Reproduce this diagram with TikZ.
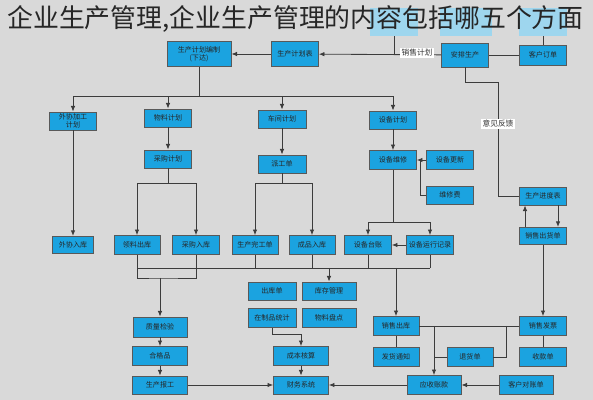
\documentclass[tikz,border=0pt]{standalone}
\usepackage{fontspec}
\setmainfont{Noto Sans CJK SC}
\usetikzlibrary{positioning, arrows.meta, calc}
\definecolor{bgcolor}{RGB}{217,217,217}
\definecolor{boxcolor}{RGB}{27,163,224}
\definecolor{hlcolor}{RGB}{158,214,238}
\definecolor{linecolor}{RGB}{60,60,60}

\begin{document}
\begin{tikzpicture}[x=0.025cm, y=-0.025cm,
    blk/.style={draw=black!65, fill=boxcolor, line width=0.6pt, inner sep=0pt,
        minimum width=1.17cm, minimum height=0.47cm, text=black!85,
        font=\fontsize{5}{6}\selectfont, align=center},
    hl/.style={fill=hlcolor, inner sep=0pt, minimum width=1.18cm, minimum height=0.7cm},
    lnk/.style={draw=linecolor, line width=0.6pt},
    arr/.style={lnk, -{Latex[length=4pt, width=3.2pt]}},
    lbl/.style={fill=white, inner sep=1pt, text=black!80, font=\fontsize{5.5}{6}\selectfont}]
    % Fond
    \fill[bgcolor] (0,0) rectangle (593,400);
    \useasboundingbox (0,0) rectangle (593,400);

    % Cases cachées sous le titre
    \node[hl] (t1) at (394,22) {};
    \node[hl, minimum width=1.28cm] (t2) at (466,22) {};
    \node[hl] (t3) at (543,22) {};

    % Première rangée
    \node[blk, minimum width=1.6cm, minimum height=0.63cm] (plan) at (199,54) {生产计划编制\\(下达)};
    \node[blk, minimum height=0.63cm] (plantab) at (295,54) {生产计划表};
    \node[blk, minimum height=0.6cm] (arrange) at (465,55) {安排生产};
    \node[blk, minimum height=0.5cm] (order) at (543,55) {客户订单};
    \draw[arr] (arrange) -- (plantab);
    \draw[lnk] (t1) -- (t1 |- plantab);
    \draw[lnk] (order) -- (arrange);
    \draw[lnk] (t3) -- (order);
    \draw[arr] (plantab) -- (plan);
    \node[lbl] (sales) at (417,53) {销售计划};

    % Deuxième rangée
    \node[blk, minimum height=0.45cm] (outplan) at (73,121) {外协加工\\计划};
    \node[blk, minimum height=0.45cm] (matplan) at (168,118) {物料计划};
    \node[blk, minimum height=0.45cm, minimum width=1.2cm] (shopplan) at (282,119) {车间计划};
    \node[blk, minimum height=0.45cm] (eqplan) at (393,120) {设备计划};
    \coordinate (bus1) at (199,96);
    \draw[lnk] (plan) -- (bus1);
    \foreach \n in {outplan, matplan, shopplan, eqplan}
        \draw[arr] (bus1) -| (\n);

    % Troisième rangée
    \node[blk, minimum height=0.45cm] (buyplan) at (168,159) {采购计划};
    \node[blk, minimum height=0.45cm, minimum width=1.2cm] (dispatch) at (282,164) {派工单};
    \node[blk] (repair) at (393,160) {设备维修};
    \node[blk] (renew) at (450,160) {设备更新};
    \node[blk, minimum height=0.45cm] (spare) at (450,195) {维修费};
    \node[blk, minimum height=0.45cm] (progress) at (543,196) {生产进度表};
    \draw[arr] (matplan) -- (buyplan);
    \draw[arr] (shopplan) -- (dispatch);
    \draw[arr] (eqplan) -- (repair);
    \draw[arr] (renew) -- (repair);
    \coordinate (jr) at (420,160);
    \draw[lnk] (spare) -| (jr);
    \coordinate (fb) at (498,82);
    \draw[lnk] (arrange) |- (fb) |- (progress);
    \node[lbl] (advice) at (498,124) {意见反馈};

    % Quatrième rangée
    \node[blk, minimum width=1.03cm, minimum height=0.43cm] (outstock) at (73,245) {外协入库};
    \node[blk, minimum width=1.15cm] (matout) at (137,245) {领料出库};
    \node[blk] (buystock) at (196,245) {采购入库};
    \node[blk, minimum width=1.15cm] (finish) at (255,245) {生产完工单};
    \node[blk, minimum width=1.15cm] (prodstock) at (312,245) {成品入库};
    \node[blk] (eqbook) at (368,245) {设备台账};
    \node[blk] (eqrun) at (430,245) {设备运行记录};
    \node[blk, minimum height=0.43cm] (shipment) at (543,236) {销售出货单};
    \draw[arr] (outplan) -- (outstock);
    \coordinate (bus2) at (168,183);
    \draw[lnk] (buyplan) -- (bus2);
    \foreach \n in {matout, buystock}
        \draw[arr] (bus2) -| (\n);
    \coordinate (bus3) at (282,183);
    \draw[lnk] (dispatch) -- (bus3);
    \foreach \n in {finish, prodstock}
        \draw[arr] (bus3) -| (\n);
    \coordinate (bus4) at (393,222);
    \draw[lnk] (repair) -- (bus4);
    \foreach \n in {eqbook, eqrun}
        \draw[arr] (bus4) -| (\n);
    \draw[arr] (eqrun) -- (eqbook);
    \draw[arr] ($(shipment.north)+(-18,0)$) -- ($(progress.south)+(-18,0)$);
    \draw[arr] ($(progress.south)+(15,0)$) -- ($(shipment.north)+(15,0)$);

    % Bloc central
    \node[blk, minimum width=1.2cm, minimum height=0.45cm] (outlist) at (272,291) {出库单};
    \node[blk, minimum width=1.35cm, minimum height=0.45cm] (stock) at (329,291) {库存管理};
    \node[blk, minimum width=1.2cm] (wip) at (272,318) {在制品统计};
    \node[blk, minimum width=1.35cm] (count) at (329,318) {物料盘点};
    \node[blk, minimum width=1.37cm] (cost) at (301,356) {成本核算};
    \node[blk, minimum width=1.37cm, minimum height=0.45cm] (finance) at (301,385) {财务系统};
    \coordinate (bus6a) at (137,268);
    \coordinate (bus6b) at (430,268);
    \draw[lnk] (bus6a) -- (bus6b);
    \foreach \n in {finish, prodstock, eqbook, eqrun}
        \draw[lnk] (\n) -- (\n |- bus6a);
    \coordinate (ubot) at (160,278);
    \draw[lnk] (matout) |- (ubot) -| (buystock);
    \coordinate (wj) at (301,334);
    \draw[arr] (wip) |- (wj) -- (cost);
    \draw[arr] (cost) -- (finance);

    % Colonne de gauche
    \node[blk, minimum width=1.35cm, minimum height=0.5cm] (check) at (160,327) {质量检验};
    \node[blk, minimum width=1.37cm] (pass) at (160,356) {合格品};
    \node[blk, minimum width=1.37cm, minimum height=0.45cm] (report) at (160,385) {生产报工};
    \draw[arr] (ubot) -- (check);
    \draw[arr] (check) -- (pass);
    \draw[arr] (pass) -- (report);
    \draw[arr] (report) -- (finance);

    % Partie droite
    \node[blk, minimum width=1.15cm] (salesout) at (396,326) {销售出库};
    \node[blk, minimum width=1.15cm] (notice) at (396,357) {发货通知};
    \node[blk, minimum width=1.15cm] (refund) at (470,357) {退货单};
    \node[blk, minimum width=1.35cm] (receive) at (434,385) {应收账款};
    \node[blk] (invoice) at (543,326) {销售发票};
    \node[blk] (payment) at (543,357) {收款单};
    \node[blk, minimum width=1.35cm] (statement) at (526,385) {客户对账单};
    \draw[arr] (stock |- bus6a) -- (stock);
    \draw[arr] (salesout |- bus6a) -- (salesout);
    \draw[lnk] (salesout) -- (notice);
    \draw[lnk] (salesout) -- (invoice);
    \draw[lnk] (invoice) -- (payment);
    \draw[arr] (shipment) -- (invoice);
    \coordinate (rj) at (434,326);
    \draw[arr] (rj) -- (receive);
    \coordinate (fj) at (506,326);
    \draw[lnk] (fj) |- (refund);
    \draw[lnk] (refund) -- (refund -| rj);
    \draw[arr] (receive) -- (finance);
    \draw[arr] (statement) -- (receive);

    % Titre
    \node[anchor=west, inner sep=0pt, text=black!85, font=\fontsize{18.4}{20}\selectfont] (title) at (7,19) {企业生产管理,企业生产管理的内容包括哪五个方面};
\end{tikzpicture}
\end{document}
